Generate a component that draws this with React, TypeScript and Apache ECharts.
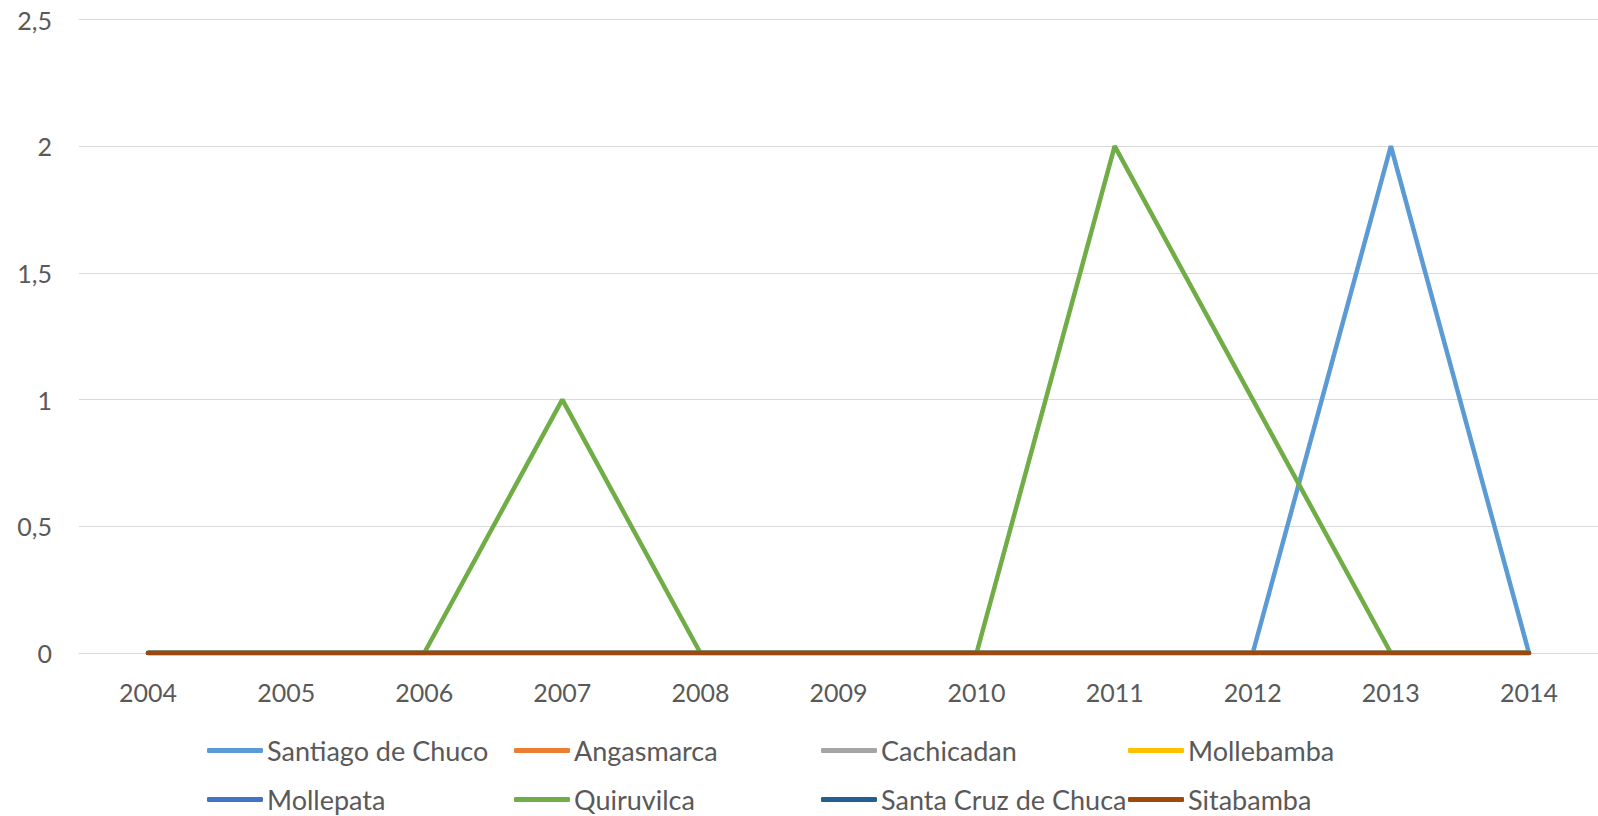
import React, { useEffect, useRef } from "react";
import * as echarts from "echarts";

const years = ["2004", "2005", "2006", "2007", "2008", "2009", "2010", "2011", "2012", "2013", "2014"];
const seriesNames = [
  "Santiago de Chuco",
  "Angasmarca",
  "Cachicadan",
  "Mollebamba",
  "Mollepata",
  "Quiruvilca",
  "Santa Cruz de Chuca",
  "Sitabamba",
];
const santiagoDeChuco = [0, 0, 0, 0, 0, 0, 0, 0, 0, 2, 0];
const angasmarca = [0, 0, 0, 0, 0, 0, 0, 0, 0, 0, 0];
const cachicadan = [0, 0, 0, 0, 0, 0, 0, 0, 0, 0, 0];
const mollebamba = [0, 0, 0, 0, 0, 0, 0, 0, 0, 0, 0];
const mollepata = [0, 0, 0, 0, 0, 0, 0, 0, 0, 0, 0];
const quiruvilca = [0, 0, 0, 1, 0, 0, 0, 2, 1, 0, 0];
const santaCruzDeChuca = [0, 0, 0, 0, 0, 0, 0, 0, 0, 0, 0];
const sitabamba = [0, 0, 0, 0, 0, 0, 0, 0, 0, 0, 0];
const seriesValues = [
  santiagoDeChuco,
  angasmarca,
  cachicadan,
  mollebamba,
  mollepata,
  quiruvilca,
  santaCruzDeChuca,
  sitabamba,
];
const colors = ["#5B9BD5", "#ED7D31", "#A5A5A5", "#FFC000", "#4472C4", "#70AD47", "#255E91", "#9E480E"];

const legendLefts = [207, 514, 821, 1128];
const legendTops = [737, 786];
const FONT = "Lato, 'Liberation Sans', Arial, sans-serif";
const TEXT_COLOR = "#595959";
const AXIS_FONT_SIZE = 25;
const LEGEND_FONT_SIZE = 27;

export default function App() {
  const ref = useRef<HTMLDivElement>(null);
  useEffect(() => {
    if (!ref.current) return;
    const chart = echarts.init(ref.current, undefined, { renderer: "svg" });
    const legends = seriesNames.map((name, i) => ({
      show: true,
      data: [name],
      left: legendLefts[i % 4],
      top: legendTops[Math.floor(i / 4)],
      orient: "horizontal",
      icon: "roundRect",
      itemWidth: 56,
      itemHeight: 5,
      padding: 0,
      textStyle: { color: TEXT_COLOR, fontSize: LEGEND_FONT_SIZE, fontFamily: FONT, padding: [0, 0, 0, -1] },
      selectedMode: false,
    }));
    chart.setOption({
      animation: false,
      color: colors,
      textStyle: { fontFamily: FONT },
      grid: { left: 79, right: 0, top: 19.5, bottom: 163, containLabel: false },
      legend: legends,
      xAxis: {
        type: "category",
        data: years,
        boundaryGap: true,
        axisLine: { show: true, lineStyle: { color: "#D9D9D9", width: 1 } },
        axisTick: { show: false },
        axisLabel: { color: TEXT_COLOR, fontSize: AXIS_FONT_SIZE, fontFamily: FONT, margin: 26 },
      },
      yAxis: {
        type: "value",
        min: 0,
        max: 2.5,
        interval: 0.5,
        axisLine: { show: false },
        axisTick: { show: false },
        splitLine: { lineStyle: { color: "#D9D9D9", width: 1 } },
        axisLabel: {
          color: TEXT_COLOR,
          fontSize: AXIS_FONT_SIZE,
          fontFamily: FONT,
          margin: 27,
          formatter: (v: number) => String(v).replace(".", ","),
        },
      },
      series: seriesNames.map((name, i) => ({
        name,
        type: "line",
        data: seriesValues[i],
        symbol: "none",
        showSymbol: false,
        lineStyle: { width: 4.5, color: colors[i], cap: "round" },
        itemStyle: { color: colors[i] },
      })),
    });
    return () => chart.dispose();
  }, []);
  return (
    <div
      ref={ref}
      style={{ position: "absolute", left: 0, top: 0, width: 1598, height: 816, background: "#fff" }}
    />
  );
}
